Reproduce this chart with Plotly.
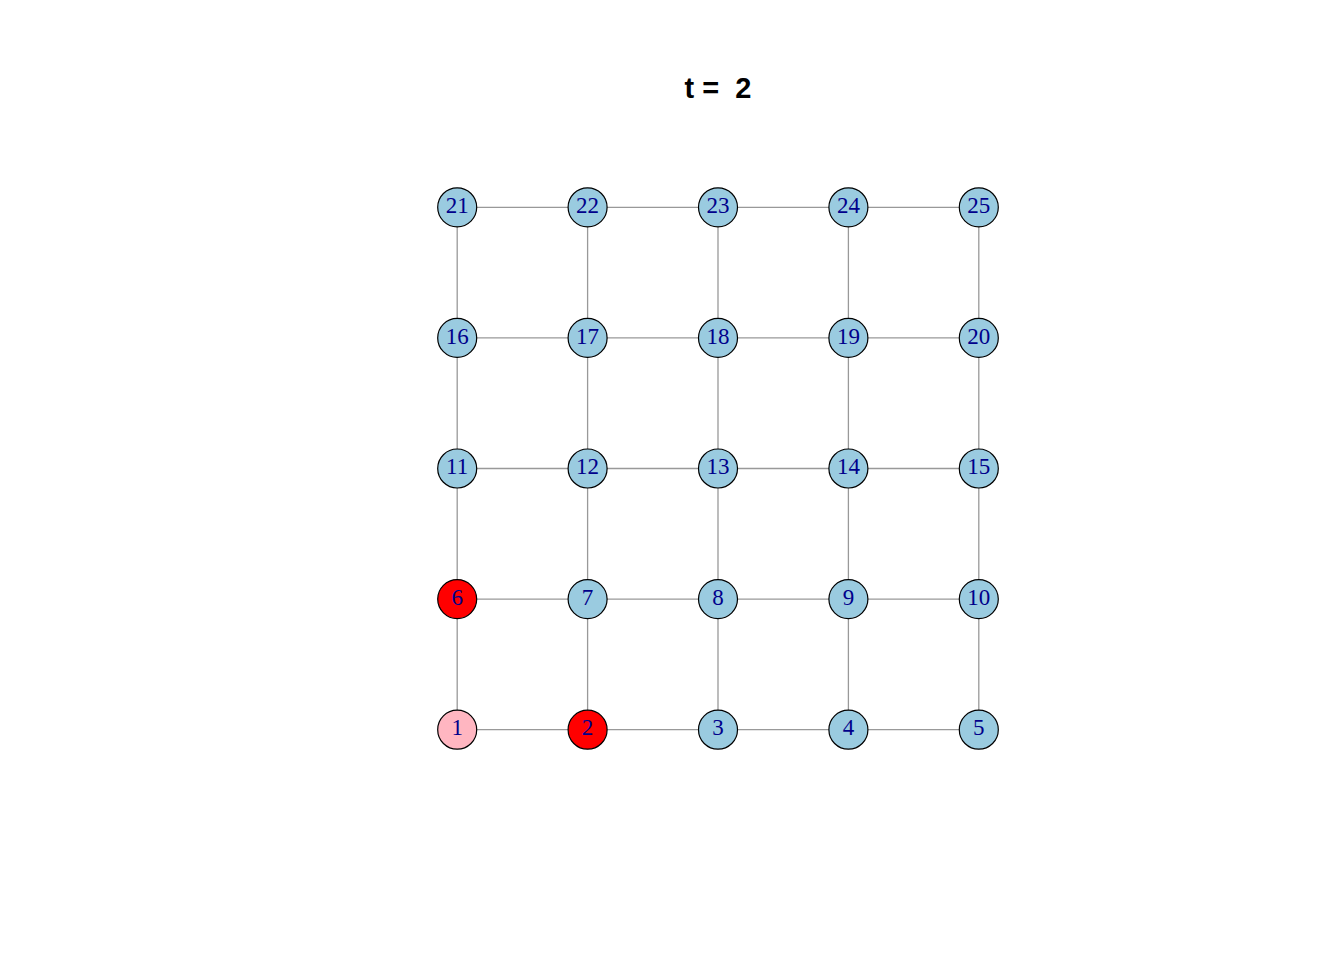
import plotly.graph_objects as go

n = 5
node_ids = list(range(1, 26))
node_x = [(i - 1) % n for i in node_ids]
node_y = [(i - 1) // n for i in node_ids]
infected = [2, 6]
recovered = [1]
colors = ["red" if i in infected else ("#FFB6C1" if i in recovered else "#9ACBE0") for i in node_ids]

edges = []
for i in node_ids:
    if (i - 1) % n < n - 1:
        edges.append((i, i + 1))
    if i + n <= 25:
        edges.append((i, i + n))

ex, ey = [], []
for a, b in edges:
    ex += [node_x[a - 1], node_x[b - 1], None]
    ey += [node_y[a - 1], node_y[b - 1], None]

fig = go.Figure()
fig.add_trace(go.Scatter(x=ex, y=ey, mode="lines", line=dict(color="#999999", width=1.3),
                         hoverinfo="skip", showlegend=False))
fig.add_trace(go.Scatter(x=node_x, y=node_y, mode="markers+text", text=[str(i) for i in node_ids],
                         textposition="middle center",
                         textfont=dict(family="Liberation Serif", size=23, color="#00008B"),
                         marker=dict(size=39, color=colors, line=dict(color="black", width=1.2)),
                         showlegend=False, cliponaxis=False))
fig.update_layout(
    width=1344, height=960, plot_bgcolor="white", paper_bgcolor="white",
    margin=dict(l=384, r=308, t=134, b=173),
    title=dict(text="<b>t =  2</b>", x=710/1344, xanchor="center", y=1-80/960, yanchor="middle",
               font=dict(family="Liberation Sans", size=29, color="black")),
    xaxis=dict(range=[-0.5, 4.5], visible=False),
    yaxis=dict(range=[-0.5, 4.5], visible=False),
)
fig.write_html("out.html")
